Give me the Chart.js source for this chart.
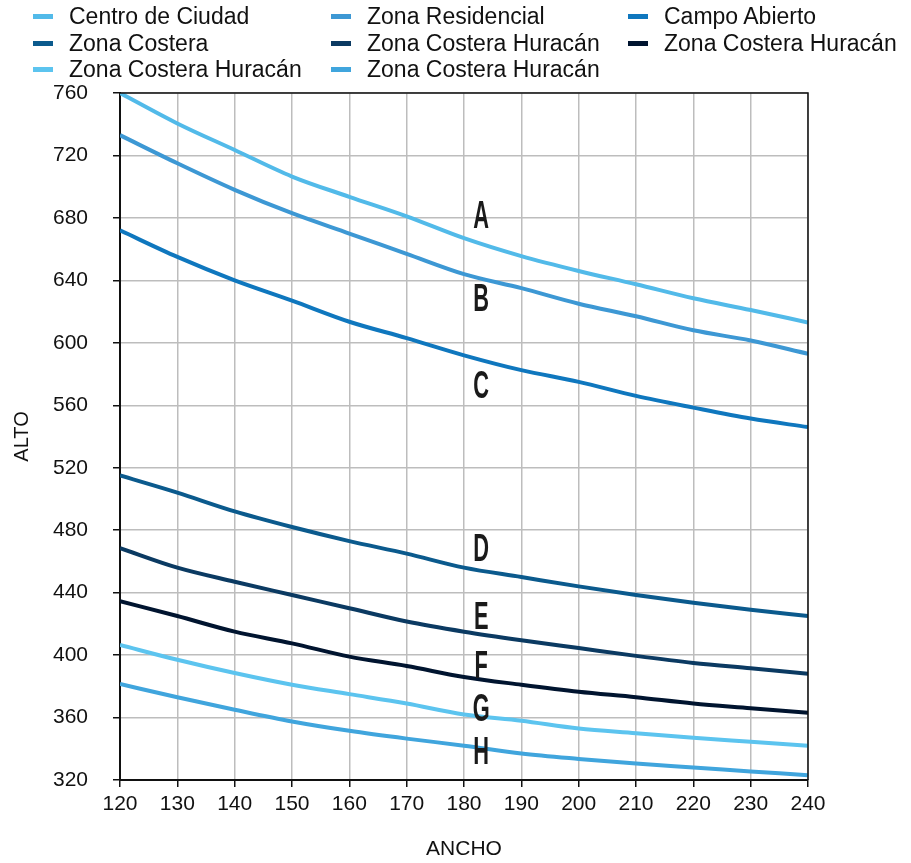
<!DOCTYPE html>
<html>
<head>
<meta charset="utf-8">
<script src="https://cdn.jsdelivr.net/npm/chart.js@4/dist/chart.umd.min.js"></script>
<style>
  html, body { margin: 0; padding: 0; background: #fff; }
  #wrap { position: relative; width: 911px; height: 863px; }
  #c { position: absolute; left: 0; top: 0; }
  #legend { position: absolute; left: 0; top: 0; width: 911px; height: 85px;
    font-family: "Liberation Sans", Arial, sans-serif;
    font-size: 23px; color: #111; }
  .item { position: absolute; height: 26px; line-height: 26px; white-space: nowrap; }
  .item .mk { position: absolute; left: 0; top: 11px; width: 20px; height: 5px; }
  .item .tx { position: absolute; left: 36px; top: 0; }
</style>
</head>
<body>
<div id="wrap">
  <canvas id="c" width="911" height="863"></canvas>
  <div id="legend"></div>
</div>
<script>
// ---- data ----
const anchoValues = [120, 130, 140, 150, 160, 170, 180, 190, 200, 210, 220, 230, 240];
const seriesNames = ["Centro de Ciudad", "Zona Residencial", "Campo Abierto", "Zona Costera",
  "Zona Costera Huracán", "Zona Costera Huracán", "Zona Costera Huracán", "Zona Costera Huracán"];
const seriesLetters = ["A", "B", "C", "D", "E", "F", "G", "H"];
const seriesA = [760, 740.5, 723.5, 706.5, 693.5, 681, 667, 655.5, 646, 637.5, 628.5, 621, 613];
const seriesB = [733, 715, 698, 683, 670, 657, 644, 635, 625, 617, 608, 601.5, 593];
const seriesC = [672, 655, 640, 627, 613.5, 603, 592, 582.5, 575, 566, 558.5, 551.5, 546];
const seriesD = [515, 504, 492, 482, 473, 465, 456, 450, 444, 438.5, 433.5, 429, 425];
const seriesE = [468.5, 456, 447, 438.5, 430, 421.5, 415, 409.5, 404.5, 399.5, 395, 391.5, 388];
const seriesF = [434.5, 425, 415, 407.5, 399, 393, 386, 381, 376.5, 373, 369, 366, 363];
const seriesG = [406.5, 397, 388.5, 381, 375, 369, 362, 358, 353, 350, 347, 344.5, 342];
const seriesH = [381.5, 373, 365, 357.5, 351.5, 346.5, 342, 337, 333.5, 330.5, 328, 325.5, 323];
// letter annotation positions (data units)
const letterAncho = 183;
const letterAlto = [681, 628, 572, 468, 424, 393, 365, 338];
const yTicks = [320, 360, 400, 440, 480, 520, 560, 600, 640, 680, 720, 760];

const seriesValues = [seriesA, seriesB, seriesC, seriesD, seriesE, seriesF, seriesG, seriesH];
const colors = ["#52bae9", "#3d98d4", "#0f77be", "#0b5a8d", "#0b3a62", "#00142f", "#5cc4ef", "#40a5dd"];

// ---- legend (HTML) ----
const legendCols = [33, 331, 628];
const legendRows = [3, 30, 56];
const lg = document.getElementById('legend');
seriesNames.forEach((n, i) => {
  const d = document.createElement('div');
  d.className = 'item';
  d.style.left = legendCols[i % 3] + 'px';
  d.style.top = legendRows[Math.floor(i / 3)] + 'px';
  d.innerHTML = '<span class="mk" style="background:' + colors[i] + '"></span><span class="tx">' + n + '</span>';
  lg.appendChild(d);
});

const FONT = '"Liberation Sans", Arial, sans-serif';

const datasets = seriesValues.map((vals, i) => ({
  label: seriesNames[i],
  data: anchoValues.map((x, j) => ({ x: x, y: vals[j] })),
  borderColor: colors[i],
  backgroundColor: colors[i],
  borderWidth: 4,
  pointRadius: 0,
  cubicInterpolationMode: 'monotone',
  fill: false
}));

const framePlugin = {
  id: 'frame',
  afterDatasetsDraw(chart) {
    const { ctx, chartArea: a } = chart;
    ctx.save();
    ctx.strokeStyle = '#111';
    ctx.lineWidth = 1.5;
    ctx.beginPath();
    ctx.moveTo(a.left, a.top); ctx.lineTo(a.right, a.top); ctx.lineTo(a.right, a.bottom);
    ctx.stroke();
    ctx.restore();
  }
};

const lettersPlugin = {
  id: 'letters',
  afterDatasetsDraw(chart) {
    const { ctx, scales } = chart;
    ctx.save();
    ctx.fillStyle = '#1a1a1a';
    ctx.font = 'bold 39px "Liberation Sans", Arial, sans-serif';
    ctx.textAlign = 'center';
    ctx.textBaseline = 'middle';
    seriesLetters.forEach((L, i) => {
      const px = scales.x.getPixelForValue(letterAncho);
      const py = scales.y.getPixelForValue(letterAlto[i]);
      ctx.save();
      ctx.translate(px, py + 1);
      ctx.scale(0.56, 1);
      ctx.fillText(L, 0, 0);
      ctx.restore();
    });
    ctx.restore();
  }
};

new Chart(document.getElementById('c'), {
  type: 'line',
  data: { datasets },
  options: {
    responsive: false,
    animation: false,
    layout: { padding: { left: 0, right: 103, top: 93, bottom: 0 } },
    plugins: { legend: { display: false }, tooltip: { enabled: false } },
    scales: {
      x: {
        type: 'linear', min: 120, max: 240,
        afterFit(s) { s.height = 83; },
        ticks: { stepSize: 10, color: '#111', font: { family: FONT, size: 21 }, padding: 5, maxRotation: 0 },
        grid: { color: '#bdbdbd', lineWidth: 1.5, tickColor: '#111', tickLength: 7, tickWidth: 1.5 },
        border: { color: '#111', width: 2 },
        title: { display: true, text: 'ANCHO', color: '#111', font: { family: FONT, size: 21 }, padding: { top: 0, bottom: 1 } }
      },
      y: {
        type: 'linear', min: 320, max: 760,
        afterFit(s) { s.width = 120; },
        afterBuildTicks(s) { s.ticks = yTicks.map(v => ({ value: v })); },
        ticks: { color: '#111', font: { family: FONT, size: 21 }, padding: 25 },
        grid: { color: '#bdbdbd', lineWidth: 1.5, tickColor: '#111', tickLength: 7, tickWidth: 1.5 },
        border: { color: '#111', width: 2 },
        title: { display: true, text: 'ALTO', color: '#111', font: { family: FONT, size: 20 }, padding: { top: 10, bottom: 0 } }
      }
    }
  },
  plugins: [framePlugin, lettersPlugin]
});
</script>
</body>
</html>
